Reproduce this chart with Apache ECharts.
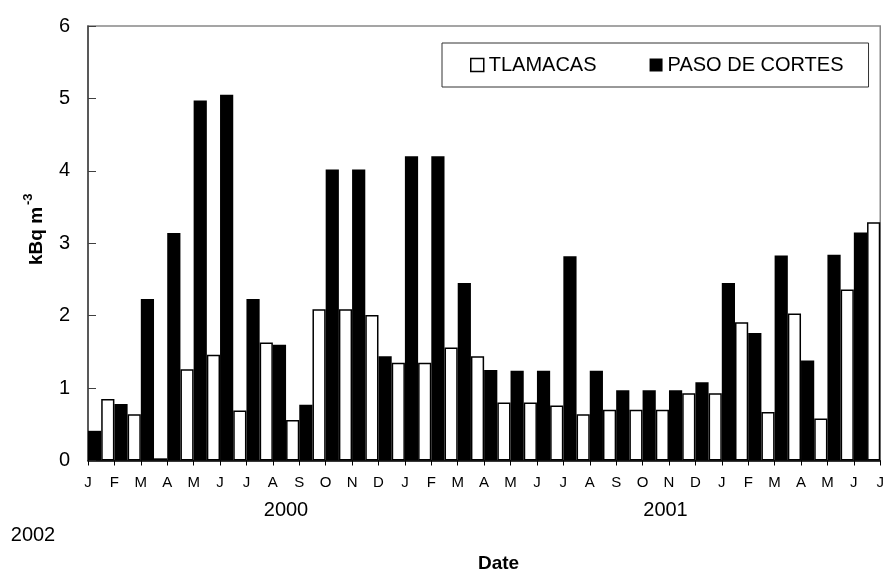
<!DOCTYPE html>
<html>
<head>
<meta charset="utf-8">
<script src="https://cdn.jsdelivr.net/npm/echarts@6/dist/echarts.min.js"></script>
<style>
  html, body { margin: 0; padding: 0; background: #fff; }
  #chart { width: 887px; height: 572px; }
</style>
</head>
<body>
<div id="chart"></div>
<script>
// month ticks, Jan 2000 .. Jul 2002
const months = ['J', 'F', 'M', 'A', 'M', 'J', 'J', 'A', 'S', 'O', 'N', 'D',
  'J', 'F', 'M', 'A', 'M', 'J', 'J', 'A', 'S', 'O', 'N', 'D',
  'J', 'F', 'M', 'A', 'M', 'J', 'J']
const yearLabels = ['2000', '2001', '2002']

// kBq m-3 (first / last bar are cut off by the axis in the original)
const tlamacas = [null, 0.85, 0.64, 0.03, 1.26, 1.46, 0.69, 1.63, 0.56, 2.09, 2.09, 2.01,
  1.35, 1.35, 1.56, 1.44, 0.80, 0.80, 0.76, 0.64, 0.70, 0.70, 0.70, 0.93,
  0.93, 1.91, 0.67, 2.03, 0.58, 2.36, 3.29]
const pasoDeCortes = [0.41, 0.78, 2.23, 3.14, 4.97, 5.05, 2.23, 1.60, 0.77, 4.02, 4.02, 1.44,
  4.20, 4.20, 2.45, 1.25, 1.24, 1.24, 2.82, 1.24, 0.97, 0.97, 0.97, 1.08,
  2.45, 1.76, 2.83, 1.38, 2.84, 3.15, null]

const yTicks = [0, 1, 2, 3, 4, 5, 6]

const FONT = '"Liberation Sans", Arial, sans-serif'

const myChart = echarts.init(document.getElementById('chart'), null, { renderer: 'canvas' })

const txt = (text, x, y, size, bold) => ({
  type: 'text',
  x: x,
  y: y,
  style: {
    text: text,
    font: (bold ? 'bold ' : '') + size + 'px ' + FONT,
    fill: '#000',
    textAlign: 'center',
    textVerticalAlign: 'middle',
    align: 'center',
    verticalAlign: 'middle'
  }
})

const option = {
  animation: false,
  backgroundColor: '#fff',
  textStyle: { fontFamily: FONT },
  grid: {
    left: 88, right: 4, top: 26, bottom: 111.5,
    show: true,
    borderColor: '#888',
    borderWidth: 1.5,
    backgroundColor: 'transparent'
  },
  legend: {
    left: 442,
    top: 43,
    padding: [12, 25, 12, 28],
    borderColor: '#333',
    borderWidth: 1,
    itemWidth: 13,
    itemHeight: 13,
    itemGap: 53,
    icon: 'rect',
    textStyle: { fontSize: 20, color: '#000', fontFamily: FONT },
    data: [
      { name: 'TLAMACAS', itemStyle: { color: '#fff', borderColor: '#000', borderWidth: 1.5 } },
      { name: 'PASO DE CORTES', itemStyle: { color: '#000', borderWidth: 0 } }
    ]
  },
  xAxis: {
    type: 'category',
    data: months,
    boundaryGap: false,
    axisLine: { lineStyle: { color: '#000', width: 1.5 } },
    axisTick: { show: true, interval: 0, length: 5, lineStyle: { color: '#000' } },
    axisLabel: { interval: 0, margin: 15, fontSize: 15, color: '#000', fontFamily: FONT },
    splitLine: { show: false }
  },
  yAxis: {
    type: 'value',
    min: yTicks[0],
    max: yTicks[yTicks.length - 1],
    interval: 1,
    axisLine: { show: true, lineStyle: { color: '#404040', width: 1.5 } },
    axisTick: { show: true, inside: true, length: 8, lineStyle: { color: '#404040' } },
    axisLabel: { margin: 18, fontSize: 20, color: '#000', fontFamily: FONT },
    splitLine: { show: false }
  },
  series: [
    {
      name: 'TLAMACAS',
      type: 'bar',
      data: tlamacas,
      barGap: '0%',
      barCategoryGap: '0%',
      clip: true,
      itemStyle: { color: '#fff', borderColor: '#000', borderWidth: 1.5 },
      emphasis: { disabled: true }
    },
    {
      name: 'PASO DE CORTES',
      type: 'bar',
      data: pasoDeCortes,
      barGap: '0%',
      barCategoryGap: '0%',
      clip: true,
      itemStyle: { color: '#000', borderWidth: 0 },
      emphasis: { disabled: true }
    }
  ],
  graphic: [
    txt(yearLabels[0], 286, 510.5, 20, false),
    txt(yearLabels[1], 665.5, 510, 20, false),
    txt(yearLabels[2], 33, 535, 20, false),
    txt('Date', 498.5, 563.5, 19, true),
    {
      // y axis title, rotated, with superscript
      type: 'group',
      x: 37,
      y: 265,
      rotation: Math.PI / 2,
      children: [
        {
          type: 'text',
          x: 0,
          y: 0,
          style: {
            text: 'kBq m',
            font: 'bold 19px ' + FONT,
            fill: '#000',
            textAlign: 'left', align: 'left',
            textVerticalAlign: 'middle', verticalAlign: 'middle'
          }
        },
        {
          type: 'text',
          x: 60,
          y: -9,
          style: {
            text: '-3',
            font: 'bold 13px ' + FONT,
            fill: '#000',
            textAlign: 'left', align: 'left',
            textVerticalAlign: 'middle', verticalAlign: 'middle'
          }
        }
      ]
    }
  ]
}

myChart.setOption(option, true)
</script>
</body>
</html>
